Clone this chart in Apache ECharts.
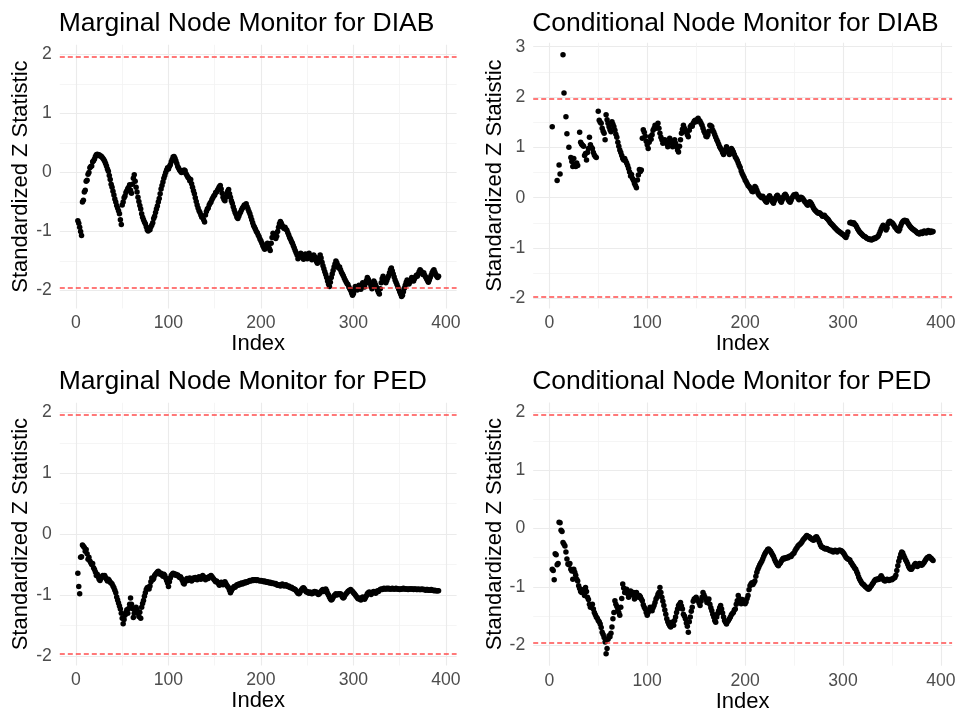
<!DOCTYPE html>
<html>
<head>
<meta charset="utf-8">
<script src="https://cdn.jsdelivr.net/npm/echarts@6/dist/echarts.min.js"></script>
<style>
  html, body { margin: 0; padding: 0; background: #fff; }
  #chart { width: 961px; height: 717px; }
</style>
</head>
<body>
<div id="chart"></div>
<script>
// standardized z statistics, one value per index (null = no value)
var margDiabStart = 2;
var margDiab = [
  -0.82,-0.86,-0.93,-1.0,-1.07,
  -0.5,-0.47,-0.33,-0.3,-0.15,-0.13,-0.03,0.0,0.08,0.1,
  0.11,0.18,0.2,0.23,0.27,0.3,0.31,0.29,0.3,0.28,
  0.28,0.26,0.24,0.22,0.19,0.15,0.11,0.06,0.02,-0.05,
  -0.12,-0.2,-0.25,-0.32,-0.38,-0.45,-0.5,-0.56,-0.6,-0.65,
  -0.7,-0.8,-0.88,-0.55,-0.5,-0.43,-0.4,-0.34,-0.31,-0.27,
  -0.25,-0.21,-0.3,-0.35,-0.2,-0.1,-0.04,-0.15,-0.25,-0.33,
  -0.42,-0.49,-0.56,-0.62,-0.7,-0.76,-0.8,-0.84,-0.87,-0.92,
  -0.97,-0.99,-0.95,-0.97,-0.92,-0.89,-0.85,-0.78,-0.74,-0.68,
  -0.62,-0.57,-0.5,-0.44,-0.36,-0.28,-0.22,-0.16,-0.1,-0.05,
  0.0,0.04,0.08,0.06,0.1,0.13,0.18,0.22,0.26,0.27,
  0.24,0.2,0.15,0.1,0.07,0.04,0.02,0.0,0.03,0.01,
  0.04,0.03,-0.02,-0.05,-0.08,-0.1,-0.14,-0.12,-0.19,-0.25,
  -0.31,-0.36,-0.43,-0.49,-0.55,-0.6,-0.65,-0.68,-0.72,-0.76,
  -0.75,-0.8,-0.84,-0.72,-0.66,-0.62,-0.6,-0.55,-0.52,-0.5,
  -0.46,-0.43,-0.4,-0.38,-0.34,-0.33,-0.3,-0.27,-0.24,-0.22,
  -0.28,-0.35,-0.42,-0.46,-0.48,-0.42,-0.36,-0.32,-0.29,-0.36,
  -0.42,-0.48,-0.52,-0.58,-0.63,-0.68,-0.71,-0.76,-0.78,-0.74,
  -0.7,-0.67,-0.63,-0.6,-0.58,-0.55,-0.57,-0.53,-0.58,-0.62,
  -0.66,-0.7,-0.75,-0.8,-0.85,-0.9,-0.93,-0.96,-1.0,-1.02,
  -1.06,-1.09,-1.13,-1.16,-1.2,-1.24,-1.27,-1.3,-1.28,-1.22,
  -1.2,-1.25,-1.29,-1.32,-1.2,-1.1,-1.03,-1.06,-1.09,-1.12,
  -1.08,-1.0,-0.93,-0.87,-0.83,-0.86,-0.9,-0.93,-0.95,-0.93,
  -0.96,-0.98,-1.02,-1.06,-1.1,-1.13,-1.17,-1.2,-1.24,-1.28,
  -1.32,-1.36,-1.4,-1.46,-1.44,-1.4,-1.37,-1.4,-1.44,-1.47,
  -1.42,-1.38,-1.42,-1.46,-1.4,-1.37,-1.41,-1.45,-1.48,-1.44,
  -1.4,-1.43,-1.47,-1.51,-1.54,-1.5,-1.44,-1.4,-1.45,-1.52,
  -1.58,-1.63,-1.68,-1.73,-1.78,-1.84,-1.89,-1.93,-1.86,-1.78,
  -1.72,-1.66,-1.6,-1.55,-1.5,-1.53,-1.57,-1.62,-1.6,-1.65,
  -1.69,-1.72,-1.75,-1.79,-1.82,-1.85,-1.88,-1.9,-1.94,-1.97,
  -2.0,-2.04,-2.08,-2.05,-1.98,-1.93,-1.96,-1.99,-1.95,-1.91,
  -1.95,-1.98,-1.92,-1.87,-1.9,-1.94,-1.88,-1.83,-1.78,-1.81,
  -1.85,-1.88,-1.93,-1.97,-1.9,-1.84,-1.87,-1.91,-1.95,-1.99,
  -2.03,-2.06,-1.97,-1.87,-1.8,-1.76,-1.8,-1.84,-1.87,-1.83,
  -1.79,-1.75,-1.7,-1.65,-1.62,-1.67,-1.72,-1.77,-1.82,-1.86,
  -1.9,-1.94,-1.98,-2.02,-2.06,-2.1,-2.08,-2.02,-1.96,-1.91,
  -1.86,-1.82,-1.85,-1.89,-1.86,-1.82,-1.78,-1.81,-1.84,-1.8,
  -1.77,-1.74,-1.76,-1.72,-1.68,-1.65,-1.67,-1.7,-1.73,-1.7,
  -1.74,-1.77,-1.8,-1.83,-1.86,-1.82,-1.78,-1.74,-1.7,-1.67,
  -1.65,-1.69,-1.73,-1.76,-1.78,-1.76
];

var condDiabStart = 3;
var condDiab = [
  1.41,null,null,null,null,0.34,null,0.65,0.47,null,
  null,2.84,2.08,null,1.61,1.27,null,1.0,null,0.8,
  0.72,0.62,0.78,0.66,0.62,0.69,0.64,null,1.3,1.1,
  1.06,1.04,1.02,0.84,0.88,0.75,0.9,0.98,1.2,1.05,
  1.0,0.98,0.9,0.85,0.82,0.8,null,1.72,1.54,1.5,
  1.48,1.38,1.32,1.28,1.15,1.65,1.55,1.48,1.41,1.35,
  1.31,1.51,1.46,1.41,1.34,1.26,1.2,1.1,1.02,0.95,
  0.9,0.84,0.78,0.75,0.78,0.73,0.69,0.64,0.58,0.51,
  0.43,0.46,0.38,0.34,0.28,0.24,0.2,0.35,0.45,0.56,
  0.52,0.55,1.18,1.35,1.3,1.22,1.12,1.05,0.98,1.1,
  1.21,1.16,1.25,1.34,1.38,1.44,1.38,1.42,1.48,1.38,
  1.28,1.2,1.15,1.08,1.12,1.15,1.11,1.07,1.01,1.1,
  1.18,1.12,1.08,1.01,1.08,1.15,1.08,1.01,0.95,0.91,
  1.02,1.15,1.28,1.36,1.44,1.38,1.31,1.31,1.25,1.21,
  1.34,1.41,1.44,1.42,1.48,1.52,1.54,1.51,1.55,1.58,
  1.54,1.52,1.48,1.44,1.38,1.32,1.28,1.22,1.21,1.25,
  1.32,1.44,1.43,1.41,1.34,1.3,1.25,1.2,1.15,1.11,
  1.06,1.01,0.98,0.95,0.9,0.86,0.9,0.96,1.01,0.96,
  0.91,0.86,0.92,0.98,0.95,0.91,0.86,0.81,0.78,0.74,
  0.69,0.64,0.6,0.53,0.48,0.44,0.4,0.35,0.32,0.28,
  0.24,0.22,0.2,0.17,0.13,0.12,0.18,0.22,0.2,0.15,
  0.1,0.06,0.04,0.02,0.0,0.03,0.0,-0.04,-0.07,-0.09,
  -0.05,0.01,0.04,0.0,-0.04,-0.08,-0.11,-0.06,-0.01,0.03,
  0.05,0.02,-0.02,-0.06,-0.09,-0.04,0.01,0.05,0.07,0.04,
  0.0,-0.04,-0.07,-0.09,-0.05,0.0,0.03,0.06,0.04,0.07,
  0.03,-0.01,-0.04,-0.02,0.01,0.0,-0.02,-0.05,-0.08,-0.1,
  -0.13,-0.15,-0.1,-0.08,-0.1,-0.13,-0.17,-0.21,-0.24,-0.26,
  -0.28,-0.3,-0.31,-0.3,-0.32,-0.34,-0.37,-0.36,-0.35,-0.38,
  -0.4,-0.42,-0.44,-0.47,-0.5,-0.52,-0.54,-0.56,-0.58,-0.6,
  -0.62,-0.64,-0.66,-0.67,-0.69,-0.7,-0.72,-0.73,-0.75,-0.77,
  -0.79,-0.74,-0.68,null,-0.5,-0.49,-0.51,-0.52,-0.5,-0.53,
  -0.55,-0.58,-0.62,-0.65,-0.68,-0.7,-0.72,-0.74,-0.76,-0.77,
  -0.78,-0.8,-0.81,-0.82,-0.83,-0.82,-0.84,-0.83,-0.82,-0.8,
  -0.81,-0.79,-0.78,-0.76,-0.72,-0.67,-0.62,-0.58,-0.55,-0.57,
  -0.6,-0.64,-0.6,-0.52,-0.48,-0.47,-0.49,-0.5,-0.52,-0.55,
  -0.58,-0.6,-0.63,-0.65,-0.66,-0.62,-0.56,-0.51,-0.48,-0.46,
  -0.45,-0.47,-0.46,-0.5,-0.53,-0.56,-0.58,-0.6,-0.62,-0.63,
  -0.65,-0.66,-0.68,-0.7,-0.71,-0.72,-0.7,-0.68,-0.71,-0.69,
  -0.66,-0.68,-0.7,-0.67,-0.65,-0.67,-0.69,-0.66,-0.68,-0.67
];

var margPedStart = 2;
var margPed = [
  -0.64,-0.86,-0.98,-0.38,-0.37,-0.18,-0.2,-0.22,-0.28,
  -0.25,-0.32,-0.41,-0.38,-0.44,-0.47,-0.5,-0.48,-0.55,-0.58,
  -0.62,-0.68,-0.66,-0.7,-0.74,-0.76,-0.73,-0.7,-0.68,-0.7,
  -0.68,-0.71,-0.74,-0.77,-0.74,-0.76,-0.79,-0.8,-0.82,-0.85,
  -0.88,-0.92,-0.96,-1.03,-1.08,-1.13,-1.18,-1.23,-1.3,-1.38,
  -1.47,-1.4,-1.33,-1.28,-1.24,-1.3,-1.22,-1.15,-1.05,-1.15,
  -1.22,-1.37,-1.3,-1.25,-1.2,-1.24,-1.3,-1.35,-1.28,-1.38,
  -1.2,-1.14,-1.09,-1.02,-0.96,-0.91,-0.88,-0.87,-0.9,-0.85,
  -0.78,-0.72,-0.75,-0.73,-0.68,-0.66,-0.64,-0.62,-0.61,-0.63,
  -0.66,-0.64,-0.67,-0.69,-0.66,-0.68,-0.72,-0.76,-0.8,-0.86,
  -0.78,-0.72,-0.68,-0.66,-0.64,-0.65,-0.67,-0.66,-0.68,-0.67,
  -0.69,-0.71,-0.7,-0.73,-0.76,-0.8,-0.82,-0.78,-0.75,-0.73,
  -0.76,-0.74,-0.72,-0.74,-0.77,-0.75,-0.72,-0.74,-0.71,-0.73,
  -0.75,-0.72,-0.7,-0.72,-0.74,-0.71,-0.68,-0.7,-0.73,-0.75,
  -0.73,-0.71,-0.73,-0.7,-0.69,-0.68,-0.7,-0.72,-0.74,-0.76,
  -0.78,-0.77,-0.79,-0.81,-0.84,-0.82,-0.79,-0.81,-0.83,-0.8,
  -0.78,-0.81,-0.84,-0.86,-0.88,-0.92,-0.96,-0.93,-0.9,-0.88,
  -0.86,-0.87,-0.85,-0.83,-0.84,-0.82,-0.83,-0.81,-0.8,-0.82,
  -0.8,-0.79,-0.8,-0.78,-0.79,-0.78,-0.77,-0.76,-0.77,-0.76,
  -0.75,-0.76,-0.75,-0.75,-0.76,-0.75,-0.76,-0.76,-0.77,-0.76,
  -0.77,-0.77,-0.78,-0.77,-0.78,-0.79,-0.78,-0.79,-0.8,-0.79,
  -0.8,-0.81,-0.8,-0.81,-0.82,-0.81,-0.83,-0.84,-0.83,-0.84,
  -0.85,-0.83,-0.82,-0.84,-0.85,-0.84,-0.83,-0.85,-0.86,-0.85,
  -0.87,-0.88,-0.87,-0.89,-0.9,-0.9,-0.91,-0.93,-0.95,-0.97,
  -0.98,-0.96,-0.93,-0.91,-0.89,-0.88,-0.9,-0.93,-0.95,-0.94,
  -0.96,-0.97,-0.95,-0.96,-0.98,-0.97,-0.95,-0.94,-0.96,-0.95,
  -0.97,-0.99,-0.98,-0.96,-0.94,-0.92,-0.91,-0.94,-0.92,-0.9,
  -0.93,-0.97,-1.0,-1.03,-1.06,-1.08,-1.07,-1.04,-1.01,-1.0,
  -0.98,-1.0,-0.99,-0.98,-0.99,-0.98,-1.0,-1.03,-1.05,-1.03,
  -1.0,-0.98,-0.96,-0.94,-0.93,-0.92,-0.91,-0.93,-0.94,-0.96,
  -0.98,-1.0,-1.02,-1.04,-1.06,-1.05,-1.07,-1.08,-1.05,-1.03,
  -1.05,-1.07,-1.04,-1.01,-0.98,-0.96,-0.95,-0.97,-0.99,-0.97,
  -0.95,-0.94,-0.95,-0.97,-0.95,-0.93,-0.94,-0.92,-0.91,-0.9,
  -0.91,-0.9,-0.89,-0.9,-0.9,-0.89,-0.9,-0.89,-0.9,-0.9,
  -0.9,-0.89,-0.9,-0.9,-0.9,-0.89,-0.9,-0.9,-0.9,-0.91,
  -0.9,-0.9,-0.9,-0.89,-0.9,-0.9,-0.9,-0.9,-0.91,-0.9,
  -0.9,-0.9,-0.9,-0.9,-0.91,-0.9,-0.9,-0.91,-0.91,-0.9,
  -0.91,-0.91,-0.91,-0.9,-0.91,-0.91,-0.91,-0.92,-0.91,-0.91,
  -0.92,-0.92,-0.92,-0.91,-0.92,-0.92,-0.93,-0.92,-0.93,-0.93,
  -0.93,-0.93
];

var condPedStart = 3;
var condPed = [
  -0.7,-0.72,-0.88,-0.43,-0.45,-0.62,-0.6,0.11,
  0.1,-0.03,-0.05,-0.24,-0.27,-0.3,-0.4,-0.52,-0.61,-0.62,
  -0.6,-0.7,-0.73,-0.87,-0.7,-0.75,-0.8,-0.87,-0.9,-0.98,
  -1.03,-1.08,-1.1,-1.05,-1.1,-1.15,-1.01,-1.08,-1.18,-1.22,
  -1.3,-1.35,-1.33,-1.3,-1.38,-1.44,-1.48,-1.52,-1.54,-1.58,
  -1.6,-1.64,-1.7,-1.78,-1.82,-1.87,-1.95,-2.15,-2.06,-1.9,
  -1.84,-1.86,-1.8,-1.69,-1.55,-1.44,-1.24,-1.3,-1.34,-1.4,
  -1.44,-1.49,-1.35,-1.2,-0.95,-1.02,-1.1,-1.06,-1.04,-1.12,
  -1.18,-1.12,-1.07,-1.1,-1.14,-1.1,-1.21,-1.16,-1.1,-1.14,
  -1.18,-1.15,-1.17,-1.21,-1.24,-1.31,-1.35,-1.38,-1.44,-1.49,
  -1.44,-1.4,-1.35,-1.38,-1.41,-1.36,-1.32,-1.27,-1.21,-1.18,
  -1.13,-1.1,-1.01,-1.1,-1.18,-1.25,-1.32,-1.4,-1.47,-1.55,
  -1.6,-1.64,-1.67,-1.69,-1.61,-1.64,-1.66,-1.58,-1.52,-1.44,
  -1.38,-1.32,-1.3,-1.27,-1.33,-1.38,-1.47,-1.5,-1.55,-1.62,
  -1.68,-1.78,-1.6,-1.52,-1.42,-1.35,-1.25,-1.21,-1.2,-1.18,
  -1.22,-1.24,-1.28,-1.32,-1.25,-1.18,-1.1,-1.14,-1.18,-1.22,
  -1.27,-1.24,-1.21,-1.3,-1.36,-1.41,-1.47,-1.52,-1.58,-1.61,
  -1.52,-1.46,-1.41,-1.36,-1.32,-1.38,-1.45,-1.52,-1.58,-1.61,
  -1.64,-1.6,-1.58,-1.55,-1.52,-1.48,-1.46,-1.44,-1.4,-1.38,
  -1.3,-1.24,-1.15,-1.2,-1.26,-1.29,-1.22,-1.24,-1.27,-1.29,
  -1.26,-1.2,-1.15,-1.05,-0.98,-0.95,-0.93,-0.96,-0.93,-0.9,
  -0.82,-0.75,-0.7,-0.66,-0.62,-0.59,-0.56,-0.52,-0.48,-0.44,
  -0.41,-0.39,-0.36,-0.35,-0.37,-0.39,-0.42,-0.45,-0.48,-0.52,
  -0.56,-0.59,-0.62,-0.64,-0.61,-0.59,-0.56,-0.53,-0.51,-0.52,
  -0.5,-0.51,-0.49,-0.5,-0.48,-0.47,-0.48,-0.45,-0.43,-0.42,
  -0.38,-0.35,-0.33,-0.3,-0.28,-0.27,-0.25,-0.23,-0.2,-0.18,
  -0.16,-0.14,-0.12,-0.13,-0.14,-0.15,-0.17,-0.18,-0.19,-0.2,
  -0.18,-0.15,-0.14,-0.17,-0.2,-0.24,-0.28,-0.31,-0.32,-0.33,
  -0.34,-0.35,-0.34,-0.35,-0.36,-0.37,-0.38,-0.37,-0.39,-0.4,
  -0.38,-0.37,-0.39,-0.4,-0.38,-0.37,-0.37,-0.38,-0.39,-0.41,
  -0.43,-0.46,-0.49,-0.51,-0.52,-0.53,-0.54,-0.58,-0.6,-0.63,
  -0.65,-0.68,-0.7,-0.74,-0.78,-0.83,-0.87,-0.9,-0.93,-0.95,
  -0.96,-0.98,-1.0,-1.01,-1.03,-1.04,-1.03,-1.0,-0.98,-0.95,
  -0.93,-0.9,-0.88,-0.87,-0.88,-0.86,-0.87,-0.84,-0.81,-0.84,
  -0.87,-0.89,-0.9,-0.88,-0.87,-0.88,-0.89,-0.88,-0.87,-0.88,
  -0.86,-0.85,-0.84,-0.8,-0.72,-0.64,-0.56,-0.5,-0.44,-0.4,
  -0.42,-0.46,-0.5,-0.54,-0.57,-0.61,-0.65,-0.68,-0.7,-0.7,
  -0.67,-0.65,-0.62,-0.6,-0.63,-0.65,-0.62,-0.6,-0.61,-0.63,
  -0.62,-0.6,-0.58,-0.55,-0.52,-0.5,-0.49,-0.48,-0.5,-0.51,
  -0.53,-0.55
];

// tick labels and reference lines
var xMajorTicks = [0, 100, 200, 300, 400];
var xMinorTicks = [50, 150, 250, 350];
var yMajorTicks = [-2, -1, 0, 1, 2];
var yMajorTicksWide = [-2, -1, 0, 1, 2, 3];
var yMinorTicks = [-1.5, -0.5, 0.5, 1.5];
var yMinorTicksWide = [-1.5, -0.5, 0.5, 1.5, 2.5];
var limits = [1.96, -1.96];

var panels = [
  { title: 'Marginal Node Monitor for DIAB', start: margDiabStart, values: margDiab,
    left: 59.8, top: 44.8, width: 396.8, height: 263.6,
    xMin: -17.5, xMax: 411.5, yMin: -2.303, yMax: 2.163, yMaj: yMajorTicks, yMin2: yMinorTicks },
  { title: 'Conditional Node Monitor for DIAB', start: condDiabStart, values: condDiab,
    left: 533.2, top: 42.7, width: 418.9, height: 265.7,
    xMin: -16.45, xMax: 411.45, yMin: -2.2, yMax: 3.08, yMaj: yMajorTicksWide, yMin2: yMinorTicksWide },
  { title: 'Marginal Node Monitor for PED', start: margPedStart, values: margPed,
    left: 59.8, top: 402.8, width: 396.8, height: 262.7,
    xMin: -17.5, xMax: 411.5, yMin: -2.156, yMax: 2.156, yMaj: yMajorTicks, yMin2: yMinorTicks },
  { title: 'Conditional Node Monitor for PED', start: condPedStart, values: condPed,
    left: 533.2, top: 402.6, width: 418.9, height: 263.1,
    xMin: -16.45, xMax: 411.45, yMin: -2.356, yMax: 2.166, yMaj: yMajorTicks, yMin2: yMinorTicks }
];

var FONT = 'Liberation Sans, Arial, Helvetica, sans-serif';
var gridColor = '#EBEBEB';
var limitStyle = { color: '#FF3B3B', type: [5, 3], width: 1.6, opacity: 0.9 };

var titles = [], grids = [], xAxes = [], yAxes = [], series = [];

panels.forEach(function (p, k) {
  // title sits above each panel, left aligned with it
  var titleTop = k < 2 ? 10 : 368;
  titles.push({
    text: p.title, left: p.left - 1, top: titleTop, padding: 0,
    textStyle: { fontFamily: FONT, fontSize: 26.5, fontWeight: 'normal', color: '#000' }
  });
  grids.push({ left: p.left, top: p.top, width: p.width, height: p.height, containLabel: false });

  // major axis with labels + grid lines
  xAxes.push({
    type: 'value', gridIndex: k, position: 'bottom', min: p.xMin, max: p.xMax,
    name: 'Index', nameLocation: 'middle', nameGap: 24,
    nameTextStyle: { fontFamily: FONT, fontSize: 22, color: '#000', verticalAlign: 'top' },
    axisLine: { show: false }, axisTick: { show: false, customValues: xMajorTicks },
    axisLabel: { customValues: xMajorTicks, margin: 6, fontFamily: FONT, fontSize: 17.6, color: '#4D4D4D' },
    splitLine: { show: true, lineStyle: { color: gridColor, width: 1.1 } }
  });
  // minor grid lines only
  xAxes.push({
    type: 'value', gridIndex: k, position: 'top', min: p.xMin, max: p.xMax,
    axisLine: { show: false }, axisTick: { show: false, customValues: xMinorTicks },
    axisLabel: { show: false, customValues: xMinorTicks },
    splitLine: { show: true, lineStyle: { color: '#F2F2F2', width: 0.8 } }
  });

  yAxes.push({
    type: 'value', gridIndex: k, position: 'left', min: p.yMin, max: p.yMax,
    name: 'Standardized Z Statistic', nameLocation: 'middle', nameGap: 25.5,
    nameTextStyle: { fontFamily: FONT, fontSize: 22, color: '#000' },
    axisLine: { show: false }, axisTick: { show: false, customValues: p.yMaj },
    axisLabel: { customValues: p.yMaj, margin: 8, fontFamily: FONT, fontSize: 17.6, color: '#4D4D4D' },
    splitLine: { show: true, lineStyle: { color: gridColor, width: 1.1 } }
  });
  yAxes.push({
    type: 'value', gridIndex: k, position: 'right', min: p.yMin, max: p.yMax,
    axisLine: { show: false }, axisTick: { show: false, customValues: p.yMin2 },
    axisLabel: { show: false, customValues: p.yMin2 },
    splitLine: { show: true, lineStyle: { color: '#F2F2F2', width: 0.8 } }
  });

  var pts = [];
  p.values.forEach(function (v, i) {
    if (v !== null) pts.push([p.start + i, v]);
  });

  series.push({
    type: 'scatter', xAxisIndex: 2 * k, yAxisIndex: 2 * k,
    data: pts, symbol: 'circle', symbolSize: 5.5,
    itemStyle: { color: '#000', opacity: 1 },
    silent: true, z: 3,
    emphasis: { disabled: true },
    markLine: {
      silent: true, symbol: 'none', animation: false,
      label: { show: false },
      emphasis: { disabled: true },
      lineStyle: limitStyle,
      data: limits.map(function (y) {
        return { yAxis: y, lineStyle: limitStyle };
      })
    }
  });
});

var myChart = echarts.init(document.getElementById('chart'), null, { renderer: 'canvas' });
myChart.setOption({
  backgroundColor: '#fff',
  animation: false,
  title: titles,
  grid: grids,
  xAxis: xAxes,
  yAxis: yAxes,
  series: series
});
</script>
</body>
</html>
